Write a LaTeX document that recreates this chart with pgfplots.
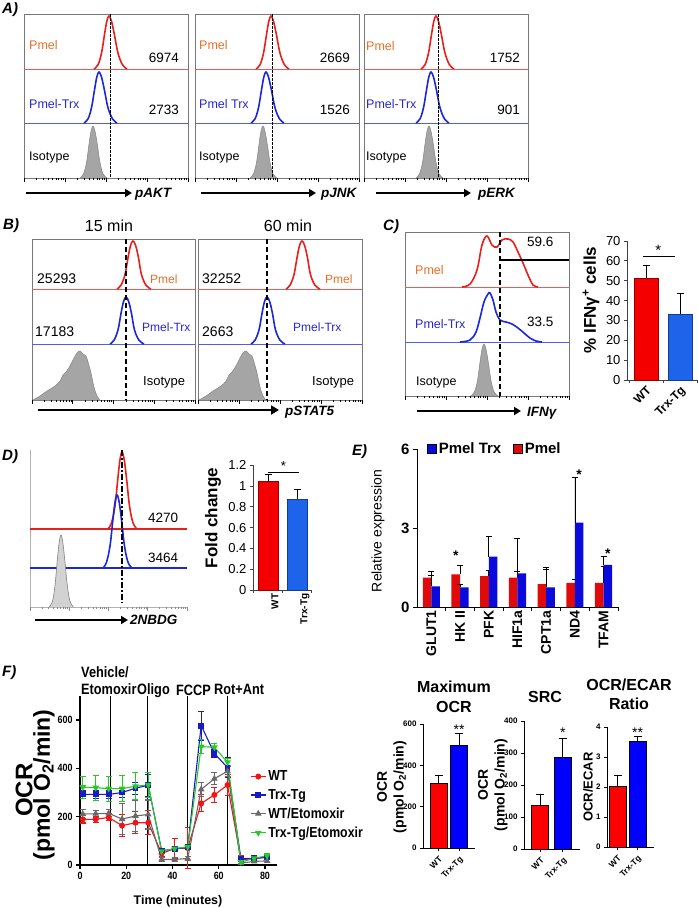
\documentclass[border=0pt]{standalone}
\usepackage{pgfplots}
\pgfplotsset{compat=1.18}
\usepackage{fontspec}
\setmainfont{Liberation Sans}
\newfontfamily\nb[FakeStretch=0.85]{Liberation Sans}
\usetikzlibrary{arrows.meta}
\newcommand\fs[1]{\fontsize{#1}{#1}\selectfont}

\definecolor{hred}{RGB}{232,32,28}
\definecolor{hblue}{RGB}{28,40,215}
\definecolor{hgray}{RGB}{165,165,165}
\definecolor{lgray}{RGB}{210,210,210}
\definecolor{boxg}{RGB}{120,120,120}
\definecolor{tor}{RGB}{232,112,40}
\definecolor{tbl}{RGB}{40,40,205}
\definecolor{cred}{RGB}{245,0,0}
\definecolor{cblue}{RGB}{30,100,235}
\definecolor{ered}{RGB}{225,10,10}
\definecolor{eblue}{RGB}{10,10,220}
\definecolor{fred}{RGB}{240,20,20}
\definecolor{fblue}{RGB}{25,25,200}
\definecolor{fgray}{RGB}{105,105,105}
\definecolor{fgreen}{RGB}{40,200,40}

\pgfplotsset{
  /pgf/number format/assume math mode=true,
  pix/.style n args={4}{x=1pt,y=1pt,xmin=#1,xmax=#3,ymin=-#4,ymax=-#2,at={(#1pt,-#4pt)},anchor=south west},
  hbox/.style={axis line style={draw=boxg,line width=0.7pt},xtick=\empty,ytick=\empty},
  % decade tick marks under the flow histograms (4 log decades)
  lticks/.style n args={3}{at={(#1pt,-#3pt)},anchor=south west,scale only axis,width=#2pt,height=8pt,
    xmin=0,xmax=4,ymin=0,ymax=1,axis line style={draw=none},ytick=\empty,xtick pos=bottom,
    xtick={0,1,2,3,4},xticklabels={},
    minor xtick={0.301,0.477,0.602,0.699,0.778,0.845,0.903,0.954,1.301,1.477,1.602,1.699,1.778,1.845,1.903,1.954,2.301,2.477,2.602,2.699,2.778,2.845,2.903,2.954,3.301,3.477,3.602,3.699,3.778,3.845,3.903,3.954},
    tick align=outside,major tick length=3.5pt,minor tick length=2pt,tick style={black,line width=0.5pt}},
  rl/.style={draw=hred,line width=1.6pt,smooth,tension=0.6},
  rb/.style={draw=hred!75,line width=0.8pt},
  bl/.style={draw=hblue,line width=1.6pt,smooth,tension=0.6},
  bb/.style={draw=hblue!75,line width=0.8pt},
  gf/.style={fill=hgray,draw=hgray!80!black,line width=0.5pt,smooth,tension=0.6},
  dl/.style={black,line width=0.6pt,dash pattern=on 2.5pt off 1.5pt},
  dlt/.style={black,line width=1.8pt,dash pattern=on 5pt off 3pt},
  barc/.style n args={3}{ybar,bar width=#2,bar shift=0pt,fill=#1,draw=#3,line width=0.7pt,
    error bars/y dir=plus,error bars/y explicit,
    error bars/error bar style={black,line width=0.7pt},
    error bars/error mark options={rotate=90,black,mark size=3.5pt,line width=0.7pt}},
  barf/.style n args={2}{ybar,bar width=#2,bar shift=0pt,fill=#1,draw=black,line width=0.9pt,
    error bars/y dir=plus,error bars/y explicit,
    error bars/error bar style={black,line width=0.9pt},
    error bars/error mark options={rotate=90,black,mark size=4pt,line width=0.9pt}},
  ebar/.style n args={2}{ybar,bar width=8.6pt,bar shift=#2,fill=#1,draw=none,forget plot,
    error bars/y dir=plus,error bars/y explicit,
    error bars/error bar style={black,line width=0.6pt},
    error bars/error mark options={rotate=90,black,mark size=3pt,line width=0.6pt}},
  fl/.style={line width=1.1pt,mark size=2.4pt,
    error bars/y dir=both,error bars/y explicit,
    error bars/error bar style={line width=1.1pt},
    error bars/error mark options={rotate=90,mark size=3pt,line width=1.1pt}},
  gpad/.style={axis lines=left,axis line style={-,line width=0.9pt},tick align=outside,
    major tick length=3pt,tick style={black,line width=0.9pt},
    ticklabel style={font=\bfseries\fs{8}},
    xtick={0,1},xticklabels={WT,Trx-Tg},
    xticklabel style={rotate=45,anchor=north east,font=\bfseries\fs{8.5}},clip=false},
  xlbar/.style={axis lines=left,axis line style={-,line width=0.7pt,black!75},tick align=outside,
    major tick length=3pt,tick style={black!75,line width=0.7pt},
    yticklabel style={font=\fs{13}},
    xtick={-0.5,0.5,1.5},xticklabels={},
    extra x ticks={0,1},extra x tick labels={WT,Trx-Tg},
    extra x tick style={major tick length=0pt,tick label style={rotate=45,anchor=north east,font=\bfseries\fs{12}}},
    clip=false},
}

\begin{document}
\begin{tikzpicture}[x=1pt,y=1pt]
\fill[white] (0,0) rectangle (698,-908);
\path[use as bounding box] (0,0) rectangle (698,-908);

% ---------------- A ----------------
\begin{axis}[pix={24}{14}{188}{178},hbox]
\addplot[rb] coordinates {(24,-69)(188,-69)};
\addplot[bb] coordinates {(24,-123)(188,-123)};
\addplot[rl] coordinates {(94,-69)(98,-64.8)(101.5,-53.1)(104.5,-34.6)(106.8,-21.3)(109,-16)(111.5,-21.3)(114.4,-34.6)(118,-53.1)(122.5,-64.8)(127,-69)};
\addplot[bl] coordinates {(84,-123)(88,-118.9)(91.5,-107.7)(94.5,-89.9)(96.8,-77.1)(99,-72)(101.5,-77.1)(104.4,-89.9)(108,-107.7)(112.5,-118.9)(117,-123)};
\addplot[gf] coordinates {(80,-178)(83.5,-173.8)(86.5,-162.4)(89,-144.2)(91,-131.2)(93,-126)(95,-131.2)(97.3,-144.2)(100,-162.4)(103,-173.8)(107,-178)};
\addplot[dl] coordinates {(110,-14)(110,-178)};
\end{axis}
\begin{axis}[lticks={24}{164}{178}]\addplot[draw=none] coordinates {(0,0)(4,1)};\end{axis}

\begin{axis}[pix={195}{14}{359}{178},hbox]
\addplot[rb] coordinates {(195,-69)(359,-69)};
\addplot[bb] coordinates {(195,-123)(359,-123)};
\addplot[rl] coordinates {(256,-69)(260,-64.8)(263.5,-53.1)(266.5,-34.6)(268.8,-21.3)(271,-16)(273.5,-21.3)(276.4,-34.6)(280,-53.1)(284.5,-64.8)(289,-69)};
\addplot[bl] coordinates {(251,-123)(255,-118.9)(258.5,-107.7)(261.5,-89.9)(263.8,-77.1)(266,-72)(268.5,-77.1)(271.4,-89.9)(275,-107.7)(279.5,-118.9)(284,-123)};
\addplot[gf] coordinates {(250,-178)(253.5,-173.8)(256.5,-162.4)(259,-144.2)(261,-131.2)(263,-126)(265,-131.2)(267.3,-144.2)(270,-162.4)(273,-173.8)(277,-178)};
\addplot[dl] coordinates {(272,-14)(272,-178)};
\end{axis}
\begin{axis}[lticks={195}{164}{178}]\addplot[draw=none] coordinates {(0,0)(4,1)};\end{axis}

\begin{axis}[pix={364}{14}{528}{178},hbox]
\addplot[rb] coordinates {(364,-69)(528,-69)};
\addplot[bb] coordinates {(364,-123)(528,-123)};
\addplot[rl] coordinates {(421,-69)(425,-64.8)(428.5,-53.1)(431.5,-34.6)(433.8,-21.3)(436,-16)(438.5,-21.3)(441.4,-34.6)(445,-53.1)(449.5,-64.8)(454,-69)};
\addplot[bl] coordinates {(416,-123)(420,-118.9)(423.5,-107.7)(426.5,-89.9)(428.8,-77.1)(431,-72)(433.5,-77.1)(436.4,-89.9)(440,-107.7)(444.5,-118.9)(449,-123)};
\addplot[gf] coordinates {(416,-178)(419.5,-173.8)(422.5,-162.4)(425,-144.2)(427,-131.2)(429,-126)(431,-131.2)(433.3,-144.2)(436,-162.4)(439,-173.8)(443,-178)};
\addplot[dl] coordinates {(438,-14)(438,-178)};
\end{axis}
\begin{axis}[lticks={364}{164}{178}]\addplot[draw=none] coordinates {(0,0)(4,1)};\end{axis}

\node[anchor=base west,inner sep=0pt,font=\bfseries\itshape\fs{15}] at (2,-13) {A)};
\begin{scope}[every node/.style={inner sep=0pt}]
\node[anchor=base west,font=\fs{12.5},text=tor] at (29,-49) {Pmel};
\node[anchor=base west,font=\fs{12.5},text=tbl] at (29,-108) {Pmel-Trx};
\node[anchor=base west,font=\fs{12.5}] at (29,-160) {Isotype};
\node[anchor=base east,font=\fs{13.5}] at (179,-62) {6974};
\node[anchor=base east,font=\fs{13.5}] at (179,-114) {2733};
\node[anchor=base west,font=\fs{12.5},text=tor] at (199,-49) {Pmel};
\node[anchor=base west,font=\fs{12.5},text=tbl] at (199,-108) {Pmel Trx};
\node[anchor=base west,font=\fs{12.5}] at (199,-160) {Isotype};
\node[anchor=base east,font=\fs{13.5}] at (350,-62) {2669};
\node[anchor=base east,font=\fs{13.5}] at (350,-114) {1526};
\node[anchor=base west,font=\fs{12.5},text=tor] at (366,-50) {Pmel};
\node[anchor=base west,font=\fs{12.5},text=tbl] at (366,-108) {Pmel-Trx};
\node[anchor=base west,font=\fs{12.5}] at (366,-160) {Isotype};
\node[anchor=base east,font=\fs{13.5}] at (520,-62) {1752};
\node[anchor=base east,font=\fs{13.5}] at (520,-114) {901};
\end{scope}
\draw[line width=2.2pt,-{Triangle[length=7pt,width=8pt]}] (26,-193) -- (132,-193);
\draw[line width=2.2pt,-{Triangle[length=7pt,width=8pt]}] (201,-193) -- (316,-193);
\draw[line width=2.2pt,-{Triangle[length=7pt,width=8pt]}] (376,-193) -- (471,-193);
\node[anchor=base west,inner sep=0pt,font=\bfseries\itshape\fs{13.5}] at (135,-197) {pAKT};
\node[anchor=base west,inner sep=0pt,font=\bfseries\itshape\fs{13.5}] at (321,-197) {pJNK};
\node[anchor=base west,inner sep=0pt,font=\bfseries\itshape\fs{13.5}] at (478,-197) {pERK};

% ---------------- B ----------------
\begin{axis}[pix={32}{239}{195}{400},hbox]
\addplot[rb] coordinates {(32,-289)(195,-289)};
\addplot[bb] coordinates {(32,-344)(195,-344)};
\addplot[rl] coordinates {(117,-289)(121,-285.2)(125,-274.6)(128,-257.8)(130.5,-245.8)(133,-241)(135.7,-245.8)(138.5,-257.8)(141.5,-274.6)(146,-285.2)(151,-289)};
\addplot[bl] coordinates {(110,-344)(114,-340.2)(118,-329.9)(121,-313.5)(123.5,-301.7)(126,-297)(128.7,-301.7)(131.5,-313.5)(134.5,-329.9)(139,-340.2)(144,-344)};
\addplot[gf] coordinates {(33,-400)(40,-396)(47,-391)(55,-386)(60,-381)(63,-375)(66,-372)(70,-366)(74,-358)(77,-353)(80,-351)(83,-354)(86,-356)(88,-362)(91,-373)(94,-387)(97,-396)(100,-400)};
\addplot[dlt] coordinates {(126,-239)(126,-400)};
\end{axis}
\begin{axis}[lticks={32}{163}{400}]\addplot[draw=none] coordinates {(0,0)(4,1)};\end{axis}

\begin{axis}[pix={198}{239}{362}{400},hbox]
\addplot[rb] coordinates {(198,-289)(362,-289)};
\addplot[bb] coordinates {(198,-344)(362,-344)};
\addplot[rl] coordinates {(286,-289)(290,-285.2)(294,-274.6)(297,-257.8)(299.5,-245.8)(302,-241)(304.7,-245.8)(307.5,-257.8)(310.5,-274.6)(315,-285.2)(320,-289)};
\addplot[bl] coordinates {(251,-344)(255,-340.2)(259,-329.9)(262,-313.5)(264.5,-301.7)(267,-297)(269.7,-301.7)(272.5,-313.5)(275.5,-329.9)(280,-340.2)(285,-344)};
\addplot[gf] coordinates {(199,-400)(206,-396)(213,-391)(221,-386)(226,-381)(229,-375)(232,-372)(236,-366)(240,-358)(243,-353)(246,-351)(249,-354)(252,-356)(254,-362)(257,-373)(260,-387)(263,-396)(266,-400)};
\addplot[dlt] coordinates {(267,-239)(267,-400)};
\end{axis}
\begin{axis}[lticks={198}{164}{400}]\addplot[draw=none] coordinates {(0,0)(4,1)};\end{axis}

\node[anchor=base west,inner sep=0pt,font=\bfseries\itshape\fs{15}] at (3,-229) {B)};
\begin{scope}[every node/.style={inner sep=0pt}]
\node[anchor=base,font=\fs{16}] at (109,-231) {15 min};
\node[anchor=base,font=\fs{16}] at (288,-231) {60 min};
\node[anchor=base west,font=\fs{14}] at (37,-283) {25293};
\node[anchor=base west,font=\fs{12},text=tor] at (150,-283) {Pmel};
\node[anchor=base west,font=\fs{14}] at (35,-336) {17183};
\node[anchor=base west,font=\fs{12},text=tbl] at (142,-331) {Pmel-Trx};
\node[anchor=base west,font=\fs{13}] at (143,-385) {Isotype};
\node[anchor=base west,font=\fs{14}] at (202,-283) {32252};
\node[anchor=base west,font=\fs{12},text=tor] at (325,-283) {Pmel};
\node[anchor=base west,font=\fs{14}] at (202,-336) {2663};
\node[anchor=base west,font=\fs{12},text=tbl] at (293,-331) {Pmel-Trx};
\node[anchor=base west,font=\fs{13}] at (312,-385) {Isotype};
\end{scope}
\draw[line width=2.4pt,-{Triangle[length=8pt,width=9pt]}] (38,-410) -- (279,-410);
\node[anchor=base west,inner sep=0pt,font=\bfseries\itshape\fs{13.5}] at (285,-415) {pSTAT5};

% ---------------- C ----------------
\begin{axis}[pix={405}{232}{569}{396},hbox]
\addplot[rb] coordinates {(405,-287)(569,-287)};
\addplot[bb] coordinates {(405,-342)(569,-342)};
\addplot[rl] coordinates {(462,-287)(470,-284)(477,-270)(482,-245)(487,-236)(492,-245)(497,-247)(502,-240)(508,-239)(513,-242)(518,-252)(523,-263)(528,-275)(533,-285)(538,-287)};
\addplot[bl] coordinates {(460,-342)(470,-340)(476,-332)(480,-318)(484,-302)(488,-294)(490,-293)(493,-300)(496,-312)(500,-320)(506,-322)(512,-324)(518,-328)(524,-333)(530,-338)(536,-341)(542,-342)};
\addplot[gf] coordinates {(471,-396)(474.5,-391.8)(477.5,-380.4)(480,-362.2)(482,-349.2)(484,-344)(486,-349.2)(488.3,-362.2)(491,-380.4)(494,-391.8)(498,-396)};
\addplot[dlt] coordinates {(500,-232)(500,-396)};
\addplot[black,line width=1.8pt] coordinates {(500,-260)(569,-260)};
\end{axis}
\begin{axis}[lticks={405}{164}{396}]\addplot[draw=none] coordinates {(0,0)(4,1)};\end{axis}

\node[anchor=base west,inner sep=0pt,font=\bfseries\itshape\fs{15}] at (383,-230) {C)};
\begin{scope}[every node/.style={inner sep=0pt}]
\node[anchor=base west,font=\fs{13.5}] at (527,-246) {59.6};
\node[anchor=base west,font=\fs{13.5}] at (527,-326) {33.5};
\node[anchor=base west,font=\fs{12.5},text=tor] at (415,-274) {Pmel};
\node[anchor=base west,font=\fs{12.5},text=tbl] at (415,-328) {Pmel-Trx};
\node[anchor=base west,font=\fs{12.5}] at (416,-385) {Isotype};
\end{scope}
\draw[line width=2.2pt,-{Triangle[length=7pt,width=8pt]}] (417,-411) -- (521,-411);
\node[anchor=base west,inner sep=0pt,font=\bfseries\itshape\fs{13.5}] at (527,-416) {IFNγ};

\begin{axis}[x=34pt,y=1.986pt,xmin=-0.56,xmax=1.5,ymin=0,ymax=70,at={(627pt,-380pt)},anchor=south west,
  xlbar,ytick={0,10,...,70}]
\addplot[barc={cred}{24pt}{cred!60!black}] coordinates {(0,51.4) +- (0,6.3)};
\addplot[barc={cblue}{24pt}{cblue!60!black}] coordinates {(1,33.2) +- (0,10.6)};
\addplot[black,line width=1.2pt] coordinates {(-0.09,62)(0.85,62)};
\node[anchor=base,inner sep=0pt,font=\fs{15}] at (axis cs:0.36,62.5) {*};
\end{axis}
\node[rotate=90,font=\bfseries\fs{17}] at (591,-300) {\% IFNγ\textsuperscript{+} cells};

% ---------------- D ----------------
\begin{axis}[pix={30}{450}{187}{607},axis lines=left,axis line style={-,draw=black!30,line width=0.7pt},xtick=\empty,ytick=\empty]
\addplot[draw=hred,line width=1.3pt] coordinates {(30,-529)(187,-529)};
\addplot[draw=hblue,line width=1.3pt] coordinates {(30,-568)(187,-568)};
\addplot[rl] coordinates {(108,-529)(111.5,-522.8)(115,-505.9)(117.8,-479)(120,-459.7)(122,-452)(124.2,-459.7)(126.6,-479)(129.5,-505.9)(133,-522.8)(137,-529)};
\addplot[bl] coordinates {(103,-568)(106.5,-562.2)(110,-546.1)(112.8,-520.6)(115,-502.3)(117,-495)(119.2,-502.3)(121.6,-520.6)(124.5,-546.1)(128,-562.2)(132,-568)};
\addplot[fill=lgray,draw=gray,line width=0.6pt,smooth,tension=0.6] coordinates {(49,-607)(52.5,-601.2)(55,-585.4)(57.3,-560.2)(59.2,-542.2)(61,-535)(62.8,-542.2)(64.8,-560.2)(67.3,-585.4)(70,-601.2)(73.5,-607)};
\addplot[black,line width=1.8pt,dash pattern=on 6pt off 2pt on 2pt off 2pt] coordinates {(122,-450)(122,-603)};
\end{axis}
\begin{axis}[lticks={30}{157}{607},tick style={black!45,line width=0.5pt}]\addplot[draw=none] coordinates {(0,0)(4,1)};\end{axis}

\node[anchor=base west,inner sep=0pt,font=\bfseries\itshape\fs{15}] at (2,-460) {D)};
\node[anchor=base west,inner sep=0pt,font=\fs{13.5}] at (148,-522) {4270};
\node[anchor=base west,inner sep=0pt,font=\fs{13.5}] at (148,-562) {3464};
\draw[line width=2.2pt,-{Triangle[length=7pt,width=8pt]}] (35,-620) -- (128,-620);
\node[anchor=base west,inner sep=0pt,font=\bfseries\itshape\fs{13.5}] at (130,-624) {2NBDG};

\begin{axis}[x=29pt,y=104pt,xmin=-0.52,xmax=1.5,ymin=0,ymax=1.2,at={(253pt,-590pt)},anchor=south west,
  xlbar,ytick={0,0.2,0.4,0.6,0.8,1,1.2},
  extra x tick style={major tick length=0pt,tick label style={rotate=45,anchor=north east,font=\bfseries\fs{10}}}]
\addplot[barc={cred}{20pt}{cred!60!black}] coordinates {(0,1.04) +- (0,0.075)};
\addplot[barc={cblue}{20pt}{cblue!60!black}] coordinates {(1,0.875) +- (0,0.095)};
\addplot[black,line width=1pt] coordinates {(0,1.13)(1.07,1.13)};
\node[anchor=base,inner sep=0pt,font=\fs{13}] at (axis cs:0.53,1.15) {*};
\end{axis}
\node[rotate=90,font=\bfseries\fs{17}] at (213,-518) {Fold change};

% ---------------- E ----------------
\begin{axis}[x=28.7pt,y=26.33pt,xmin=-0.5,xmax=6.5,ymin=0,ymax=6,at={(417pt,-607pt)},anchor=south west,
  axis lines=left,axis line style={-,line width=0.8pt},tick align=outside,major tick length=4pt,
  tick style={black,line width=0.8pt},
  ytick={0,3,6},yticklabel style={font=\bfseries\fs{15}},
  xtick={0.5,1.5,...,6.5},xticklabels={},
  extra x ticks={0,1,2,3,4,5,6},extra x tick labels={GLUT1,HK II,PFK,HIF1a,CPT1a,ND4,TFAM},
  extra x tick style={major tick length=0pt,tick label style={rotate=90,anchor=east,font=\bfseries\fs{14}}},
  legend style={draw=none,fill=none,legend columns=2,at={(0.05,1)},anchor=west,font=\bfseries\fs{15},
    inner sep=0pt,/tikz/every even column/.append style={column sep=10pt}},
  clip=false]
\addlegendimage{legend image code/.code={\draw[fill=eblue,draw=black,line width=0.5pt] (0pt,-4.5pt) rectangle (9pt,4.5pt);}}
\addlegendentry{Pmel Trx}
\addlegendimage{legend image code/.code={\draw[fill=ered,draw=black,line width=0.5pt] (0pt,-4.5pt) rectangle (9pt,4.5pt);}}
\addlegendentry{Pmel}
\addplot[ebar={ered}{-4.3pt}] coordinates {(0,1.12) +- (0,0.25) (1,1.24) +- (0,0.33) (2,1.17) +- (0,0.22) (3,1.12) +- (0,0.22) (4,0.87) +- (0,0.65) (5,0.92) +- (0,0.13) (6,0.92) +- (0,0.64)};
\addplot[ebar={eblue}{4.3pt}] coordinates {(0,0.78) +- (0,0.44) (1,0.75) +- (0,0.12) (2,1.91) +- (0,0.79) (3,1.28) +- (0,1.34) (4,0.75) +- (0,0.68) (5,3.2) +- (0,1.72) (6,1.6) +- (0,0.33)};
\node[anchor=base,inner sep=0pt,font=\bfseries\fs{14}] at (axis cs:0.85,1.78) {*};
\node[anchor=base,inner sep=0pt,font=\bfseries\fs{14}] at (axis cs:5.15,4.86) {*};
\node[anchor=base,inner sep=0pt,font=\bfseries\fs{14}] at (axis cs:6.15,1.86) {*};
\end{axis}
\node[anchor=base west,inner sep=0pt,font=\bfseries\itshape\fs{15}] at (352,-455) {E)};
\node[rotate=90,font=\fs{14}] at (378,-531) {Relative expression};

% ---------------- F ----------------
\begin{axis}[x=2.3125pt,y=0.24167pt,xmin=0,xmax=85,ymin=0,ymax=700,at={(80pt,-865pt)},anchor=south west,
  axis lines=left,axis line style={-,line width=1.2pt},tick align=outside,major tick length=4pt,
  tick style={black,line width=1.2pt},
  xtick={0,20,40,60,80},ytick={0,200,400,600},
  ticklabel style={font=\nb\bfseries\fs{10.5}},
  legend style={draw=none,fill=none,at={(0.865,0.57)},anchor=north west,font=\nb\bfseries\fs{14.5},
    inner sep=0pt,row sep=3pt,cells={anchor=west}},
  legend image code/.code={\draw[#1,mark repeat=2,mark phase=2] plot coordinates {(0pt,0pt)(7.5pt,0pt)(15pt,0pt)};},
  clip=false]
\addplot[black,line width=0.8pt,forget plot] coordinates {(13,0)(13,700)};
\addplot[black,line width=0.8pt,forget plot] coordinates {(29.3,0)(29.3,700)};
\addplot[black,line width=0.8pt,forget plot] coordinates {(46.6,0)(46.6,700)};
\addplot[black,line width=0.8pt,forget plot] coordinates {(63.8,0)(63.8,700)};
\addplot[fl,color=fred,mark=*] coordinates {
 (1.2,189) +- (0,15) (6.8,189) +- (0,12) (12.4,197) +- (0,14) (18.2,163) +- (0,45) (24,175) +- (0,45) (29.5,175) +- (0,50)
 (35.3,48) +- (0,15) (40.9,68) +- (0,40) (46.6,70) +- (0,85)
 (52.4,255) +- (0,35) (58.1,290) +- (0,30) (63.8,331) +- (0,45)
 (69.6,23) +- (0,15) (75.3,25) +- (0,8) (80.9,33) +- (0,8)};
\addplot[fl,color=fblue,mark=square*] coordinates {
 (1.2,292) +- (0,18) (6.8,292) +- (0,18) (12.4,292) +- (0,18) (18.2,300) +- (0,20) (24,318) +- (0,25) (29.5,330) +- (0,45)
 (35.3,60) +- (0,10) (40.9,65) +- (0,10) (46.6,75) +- (0,10)
 (52.4,577) +- (0,60) (58.1,462) +- (0,15) (63.8,403) +- (0,40)
 (69.6,25) +- (0,10) (75.3,28) +- (0,8) (80.9,32) +- (0,8)};
\addplot[fl,color=fgray,mark=triangle*,mark size=2.8pt] coordinates {
 (1.2,211) +- (0,20) (6.8,212) +- (0,15) (12.4,214) +- (0,15) (18.2,190) +- (0,65) (24,203) +- (0,65) (29.5,209) +- (0,60)
 (35.3,23) +- (0,8) (40.9,23) +- (0,8) (46.6,27) +- (0,8)
 (52.4,313) +- (0,30) (58.1,357) +- (0,25) (63.8,388) +- (0,20)
 (69.6,8) +- (0,5) (75.3,15) +- (0,5) (80.9,17) +- (0,5)};
\addplot[fl,color=fgreen,mark=triangle*,mark size=2.8pt,mark options={rotate=180}] coordinates {
 (1.2,322) +- (0,45) (6.8,320) +- (0,52) (12.4,316) +- (0,52) (18.2,316) +- (0,55) (24,326) +- (0,55) (29.5,331) +- (0,50)
 (35.3,57) +- (0,10) (40.9,68) +- (0,10) (46.6,75) +- (0,10)
 (52.4,490) +- (0,30) (58.1,487) +- (0,15) (63.8,425) +- (0,15)
 (69.6,12) +- (0,8) (75.3,28) +- (0,8) (80.9,38) +- (0,8)};
\legend{WT,Trx-Tg,WT/Etomoxir,Trx-Tg/Etomoxir}
\end{axis}
\node[anchor=base west,inner sep=0pt,font=\bfseries\itshape\fs{15}] at (2,-676) {F)};
\begin{scope}[every node/.style={inner sep=0pt,font=\nb\bfseries\fs{15}}]
\node[anchor=base west] at (81,-677) {Vehicle/};
\node[anchor=base west] at (81,-694) {Etomoxir};
\node[anchor=base west] at (137,-694) {Oligo};
\node[anchor=base west] at (176,-695) {FCCP};
\node[anchor=base west] at (214,-694) {Rot+Ant};
\end{scope}
\node[rotate=90,font=\bfseries\fs{24}] at (24,-790) {OCR};
\node[rotate=90,font=\bfseries\fs{23}] at (44,-785) {(pmol O\textsubscript{2}/min)};
\node[anchor=base,inner sep=0pt,font=\bfseries\fs{12.5}] at (178,-904) {Time (minutes)};

% Maximum OCR
\begin{axis}[x=20.5pt,y=0.2067pt,xmin=-0.76,xmax=1.78,ymin=0,ymax=600,at={(423pt,-848pt)},anchor=south west,
  gpad,ytick={0,200,400,600}]
\addplot[barf={red}{17pt}] coordinates {(0,310) +- (0,43)};
\addplot[barf={blue}{17pt}] coordinates {(1,497) +- (0,55)};
\node[anchor=base,inner sep=0pt,font=\fs{14}] at (axis cs:1,550) {**};
\end{axis}
\node[anchor=base,font=\bfseries\fs{16},inner sep=0pt] at (454,-692) {Maximum};
\node[anchor=base,font=\bfseries\fs{16},inner sep=0pt] at (454,-712) {OCR};
\node[rotate=90,font=\bfseries\fs{14}] at (382,-787) {OCR};
\node[rotate=90,font=\bfseries\fs{14}] at (400,-787) {(pmol O\textsubscript{2}/min)};

% SRC
\begin{axis}[x=22.5pt,y=0.32pt,xmin=-0.73,xmax=1.76,ymin=0,ymax=400,at={(524pt,-849pt)},anchor=south west,
  gpad,ytick={0,100,200,300,400}]
\addplot[barf={red}{17pt}] coordinates {(0,135) +- (0,37)};
\addplot[barf={blue}{17pt}] coordinates {(1,287) +- (0,60)};
\node[anchor=base,inner sep=0pt,font=\fs{14}] at (axis cs:1,347) {*};
\end{axis}
\node[anchor=base,font=\bfseries\fs{16},inner sep=0pt] at (545,-702) {SRC};
\node[rotate=90,font=\bfseries\fs{14}] at (483,-785) {OCR};
\node[rotate=90,font=\bfseries\fs{14}] at (501,-785) {(pmol O\textsubscript{2}/min)};

% OCR/ECAR
\begin{axis}[x=20pt,y=30pt,xmin=-0.525,xmax=1.825,ymin=0,ymax=4,at={(607pt,-847pt)},anchor=south west,
  gpad,ytick={0,1,2,3,4}]
\addplot[barf={red}{17pt}] coordinates {(0,2.03) +- (0,0.37)};
\addplot[barf={blue}{17pt}] coordinates {(1,3.53) +- (0,0.17)};
\node[anchor=base,inner sep=0pt,font=\fs{14}] at (axis cs:1,3.66) {**};
\end{axis}
\node[anchor=base,font=\bfseries\fs{16},inner sep=0pt] at (629,-690) {OCR/ECAR};
\node[anchor=base,font=\bfseries\fs{16},inner sep=0pt] at (629,-709) {Ratio};
\node[rotate=90,font=\bfseries\fs{13}] at (588,-787) {OCR/ECAR};

\end{tikzpicture}
\end{document}
